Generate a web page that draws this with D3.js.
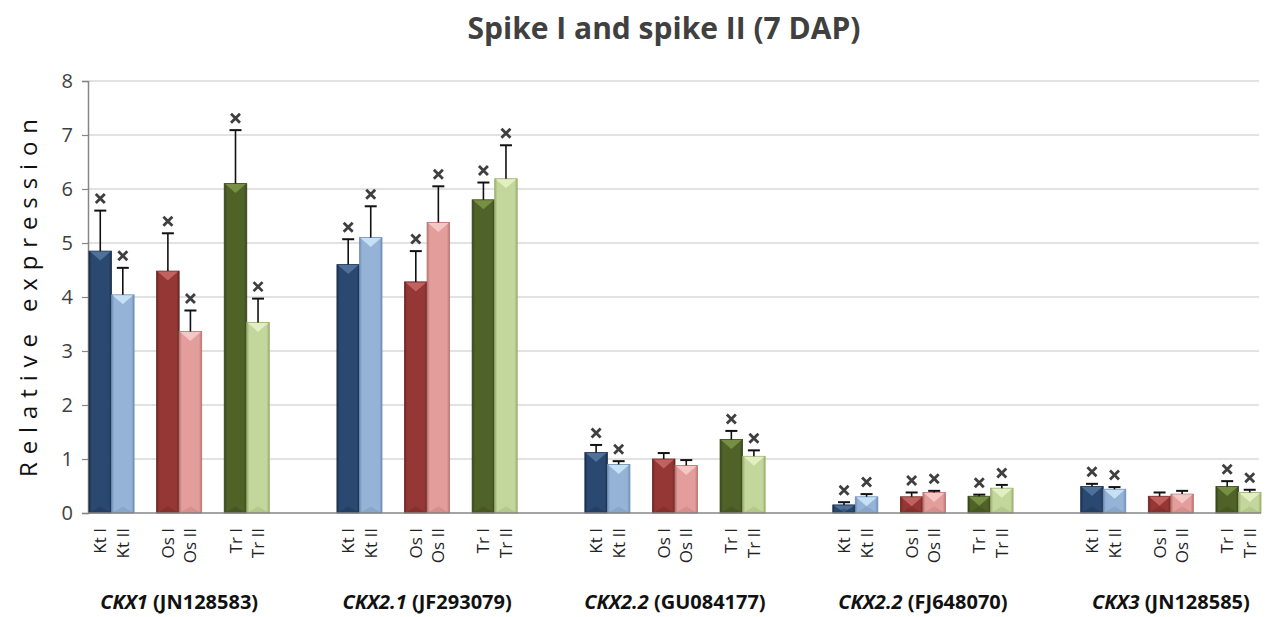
<!DOCTYPE html>
<html><head><meta charset="utf-8">
<script src="https://cdn.jsdelivr.net/npm/d3@7"></script>
<style>
body{margin:0;background:#fff;}
svg{display:block;}
</style></head>
<body>
<svg id="chart" width="1269" height="617"></svg>
<script>
// ---- data ----
const genes = ["CKX1", "CKX2.1", "CKX2.2", "CKX2.2", "CKX3"];
const accessions = ["(JN128583)", "(JF293079)", "(GU084177)", "(FJ648070)", "(JN128585)"];
const samples = ["Kt I", "Kt II", "Os I", "Os II", "Tr I", "Tr II"];
// mean relative expression per gene (rows) and sample (columns)
const means = [
  [4.85, 4.04, 4.48, 3.36, 6.10, 3.53],
  [4.60, 5.10, 4.28, 5.38, 5.80, 6.19],
  [1.12, 0.90, 1.00, 0.88, 1.36, 1.05],
  [0.15, 0.30, 0.30, 0.38, 0.31, 0.46],
  [0.49, 0.44, 0.31, 0.35, 0.49, 0.38]
];
// upper error (mean + SD)
const errTops = [
  [5.60, 4.54, 5.18, 3.75, 7.09, 3.97],
  [5.07, 5.68, 4.85, 6.05, 6.12, 6.81],
  [1.26, 0.96, 1.11, 0.98, 1.52, 1.16],
  [0.20, 0.35, 0.38, 0.41, 0.34, 0.52],
  [0.54, 0.48, 0.38, 0.41, 0.59, 0.43]
];
// significance marks (×)
const marks = [
  [1, 1, 1, 1, 1, 1],
  [1, 1, 1, 1, 1, 1],
  [1, 1, 0, 0, 1, 1],
  [1, 1, 1, 1, 1, 1],
  [1, 1, 0, 0, 1, 1]
];
const yTicks = [0, 1, 2, 3, 4, 5, 6, 7, 8];
const title = "Spike I and spike II (7 DAP)";
const yLabel = "Relative expression";

// ---- styles ----
const baseColors = ["#2a4870", "#95b3d7", "#953735", "#e39e9c", "#4f6228", "#c3d69b"];
const capColors  = ["#56789f", "#cfe8fb", "#c96a67", "#f7cdcb", "#7c9848", "#e6f3c8"];
const edgeColors = ["#1b2f4c", "#6f8fb5", "#6b2523", "#b97472", "#36441a", "#9bb06f"];
const slotPos = [0, 1, 3, 4, 6, 7];
const slotsPerGroup = 11;
const nSlots = genes.length * slotsPerGroup - 3;

const svg = d3.select("#chart");
const font = "'Open Sans', sans-serif";
const x = d3.scaleBand().domain(d3.range(nSlots)).range([89, 1261]).padding(0);
const y = d3.scaleLinear().domain([0, 8]).range([513, 81]);

// defs gradients
const defs = svg.append("defs");
baseColors.forEach((c, i) => {
  const g = defs.append("linearGradient").attr("id", "g" + i).attr("x1", 0).attr("x2", 1).attr("y1", 0).attr("y2", 0);
  g.append("stop").attr("offset", "0%").attr("stop-color", edgeColors[i]);
  g.append("stop").attr("offset", "12%").attr("stop-color", c);
  g.append("stop").attr("offset", "88%").attr("stop-color", c);
  g.append("stop").attr("offset", "100%").attr("stop-color", edgeColors[i]);
});

// gridlines
svg.append("g").selectAll("line").data(yTicks.filter(d => d > 0)).join("line")
  .attr("x1", 89).attr("x2", 1259)
  .attr("y1", d => y(d)).attr("y2", d => y(d))
  .attr("stroke", "#d9d9d9").attr("stroke-width", 1.5);

// y axis
const yAxis = svg.append("g").attr("transform", "translate(88,0)")
  .call(d3.axisLeft(y).tickValues(yTicks).tickFormat(d3.format("d")).tickSizeOuter(0).tickSize(6).tickPadding(9));
yAxis.select(".domain").attr("stroke", "#868686").attr("stroke-width", 1.5);
yAxis.selectAll(".tick line").attr("stroke", "#868686").attr("stroke-width", 1.2);
yAxis.selectAll(".tick text").attr("font-family", font).attr("font-size", 20).attr("fill", "#404040");

// bars
const flat = [];
means.forEach((row, gi) => row.forEach((v, si) => {
  flat.push({gi, si, v, e: errTops[gi][si], m: marks[gi][si], slot: gi * slotsPerGroup + slotPos[si]});
}));

const bars = svg.append("g").selectAll("g").data(flat).join("g");
bars.append("rect")
  .attr("x", d => x(d.slot)).attr("width", x.bandwidth())
  .attr("y", d => y(d.v)).attr("height", d => y(0) - y(d.v))
  .attr("fill", d => `url(#g${d.si})`)
  .attr("stroke", d => edgeColors[d.si]).attr("stroke-width", 0.8);
bars.append("path")
  .attr("d", d => {
    const x0 = x(d.slot) + 1, x1 = x(d.slot) + x.bandwidth() - 1, t = y(d.v) + 0.5;
    const h = Math.min(9, (y(0) - y(d.v)) - 1);
    return `M${x0},${t}L${x1},${t}L${(x0 + x1) / 2},${t + h}Z`;
  })
  .attr("fill", d => capColors[d.si]).attr("opacity", 0.85);
bars.append("path")
  .attr("d", d => {
    const x0 = x(d.slot) + 1, x1 = x(d.slot) + x.bandwidth() - 1, b = y(0) - 0.5;
    const h = Math.min(6, (y(0) - y(d.v)) / 2);
    return `M${x0},${b}L${x1},${b}L${(x0 + x1) / 2},${b - h}Z`;
  })
  .attr("fill", d => edgeColors[d.si]).attr("opacity", 0.35);

// error bars
const eb = svg.append("g").attr("stroke", "#111").attr("fill", "none");
eb.selectAll("line.v").data(flat).join("line").attr("class", "v")
  .attr("x1", d => x(d.slot) + x.bandwidth() / 2).attr("x2", d => x(d.slot) + x.bandwidth() / 2)
  .attr("y1", d => y(d.v)).attr("y2", d => y(d.e)).attr("stroke-width", 1.6);
eb.selectAll("line.c").data(flat).join("line").attr("class", "c")
  .attr("x1", d => x(d.slot) + x.bandwidth() / 2 - 6).attr("x2", d => x(d.slot) + x.bandwidth() / 2 + 6)
  .attr("y1", d => y(d.e)).attr("y2", d => y(d.e)).attr("stroke-width", 2);

// x marks
svg.append("g").selectAll("path").data(flat.filter(d => d.m)).join("path")
  .attr("d", d => {
    const cx = x(d.slot) + x.bandwidth() / 2, cy = y(d.e) - 12, r = 4.5;
    return `M${cx - r},${cy - r}L${cx + r},${cy + r}M${cx - r},${cy + r}L${cx + r},${cy - r}`;
  })
  .attr("stroke", "#3f3f3f").attr("stroke-width", 2.8).attr("stroke-linecap", "butt");

// x axis line
svg.append("line").attr("x1", 88).attr("x2", 1261).attr("y1", y(0)).attr("y2", y(0))
  .attr("stroke", "#868686").attr("stroke-width", 1.5);

// sample labels (rotated)
svg.append("g").selectAll("text").data(flat).join("text")
  .attr("transform", d => `translate(${x(d.slot) + x.bandwidth() / 2 + 6},528) rotate(-90)`)
  .attr("text-anchor", "end")
  .attr("font-family", font).attr("font-size", 17).attr("fill", "#222")
  .text(d => samples[d.si]);

// group labels
const gl = svg.append("g").selectAll("text").data(genes).join("text")
  .attr("x", (d, i) => (x(i * slotsPerGroup) + x(i * slotsPerGroup + 7) + x.bandwidth()) / 2)
  .attr("y", 609)
  .attr("text-anchor", "middle")
  .attr("font-family", font).attr("font-size", 20).attr("font-weight", "bold").attr("fill", "#111");
gl.append("tspan").attr("font-style", "italic").text(d => d);
gl.append("tspan").text((d, i) => " " + accessions[i]);

// title
svg.append("text").attr("x", 664).attr("y", 39).attr("text-anchor", "middle")
  .attr("font-family", font).attr("font-size", 30).attr("font-weight", "bold").attr("fill", "#404040")
  .text(title);

// y label
svg.append("text").attr("transform", "translate(37,298) rotate(-90)")
  .attr("text-anchor", "middle")
  .attr("font-family", font).attr("font-size", 24).attr("fill", "#111")
  .attr("textLength", 358).attr("lengthAdjust", "spacing")
  .text(yLabel);
</script>
</body></html>
